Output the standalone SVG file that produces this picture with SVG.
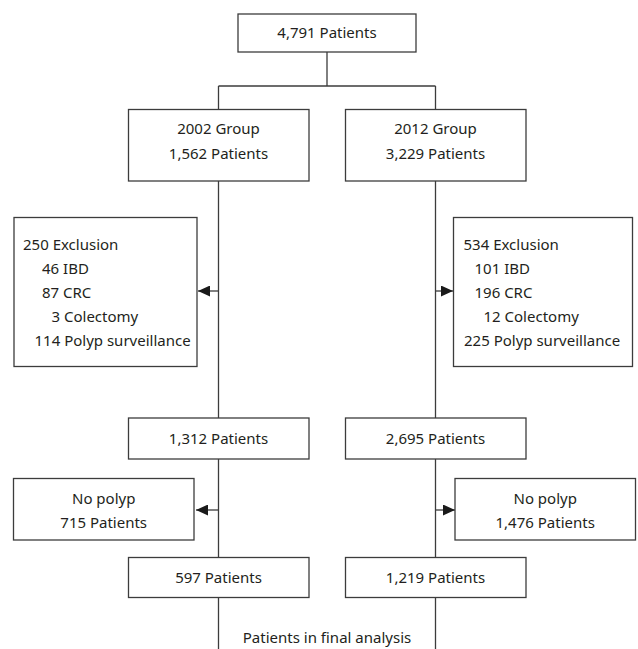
<svg xmlns="http://www.w3.org/2000/svg" width="638" height="649" viewBox="0 0 638 649">
<defs>
<style>
.box{fill:#fff;stroke:#3c3c3c;stroke-width:1.3}
.ln{fill:none;stroke:#3c3c3c;stroke-width:1.3}
.t{font-family:"Noto Sans","Open Sans",sans-serif;font-size:15px;fill:#231f20}
.c{text-anchor:middle}
</style>
<marker id="ah" viewBox="0 0 12 11" refX="12" refY="5.5" markerWidth="12" markerHeight="11" markerUnits="userSpaceOnUse" orient="auto">
<path d="M0,0 L12,5.5 L0,11 Z" fill="#1a1a1a"/>
</marker>
</defs>
<rect width="638" height="649" fill="#fff"/>
<g id="connectors">
<path class="ln" d="M327,52 V86 M218.5,86 H435.5 M218.5,86 V109.5 M435.5,86 V109.5"/>
<path class="ln" d="M218.5,181 V418 M435.5,181 V418"/>
<path class="ln" d="M218.5,459 V557.5 M435.5,459 V557.5"/>
<path class="ln" d="M218.5,597.5 V649 M435.5,597.5 V649"/>
<line class="ln" x1="218.5" y1="291" x2="198" y2="291" marker-end="url(#ah)"/>
<line class="ln" x1="435.5" y1="291" x2="453" y2="291" marker-end="url(#ah)"/>
<line class="ln" x1="218.5" y1="510" x2="196" y2="510" marker-end="url(#ah)"/>
<line class="ln" x1="435.5" y1="510" x2="455" y2="510" marker-end="url(#ah)"/>
</g>
<g id="n-total">
<rect class="box" x="238" y="14" width="178" height="38"/>
<text class="t c" x="327" y="38">4,791 Patients</text>
</g>
<g id="n-2002">
<rect class="box" x="128.5" y="109.5" width="180.5" height="71.5"/>
<text class="t c" x="218.5" y="133.5">2002 Group</text>
<text class="t c" x="218.5" y="159">1,562 Patients</text>
</g>
<g id="n-2012">
<rect class="box" x="345.5" y="109.5" width="180.5" height="71.5"/>
<text class="t c" x="435.5" y="133.5">2012 Group</text>
<text class="t c" x="435.5" y="159">3,229 Patients</text>
</g>
<g id="n-excl-2002">
<rect class="box" x="14" y="217.5" width="183" height="149"/>
<text class="t" x="23" y="249.5">250 Exclusion</text>
<text class="t" x="42" y="273.5">46 IBD</text>
<text class="t" x="42" y="297.5">87 CRC</text>
<text class="t" x="51.5" y="321.5">3 Colectomy</text>
<text class="t" x="34.5" y="345.5">114 Polyp surveillance</text>
</g>
<g id="n-excl-2012">
<rect class="box" x="453.5" y="217.5" width="179" height="149"/>
<text class="t" x="463.5" y="249.5">534 Exclusion</text>
<text class="t" x="474.5" y="273.5">101 IBD</text>
<text class="t" x="474.5" y="297.5">196 CRC</text>
<text class="t" x="483.5" y="321.5">12 Colectomy</text>
<text class="t" x="464" y="345.5">225 Polyp surveillance</text>
</g>
<g id="n-1312">
<rect class="box" x="128.5" y="418" width="180.5" height="41"/>
<text class="t c" x="218.5" y="444">1,312 Patients</text>
</g>
<g id="n-2695">
<rect class="box" x="345.5" y="418" width="180.5" height="41"/>
<text class="t c" x="435.5" y="444">2,695 Patients</text>
</g>
<g id="n-nopolyp-2002">
<rect class="box" x="13.5" y="478.5" width="180.5" height="61.5"/>
<text class="t c" x="103.7" y="504">No polyp</text>
<text class="t c" x="103.7" y="527.5">715 Patients</text>
</g>
<g id="n-nopolyp-2012">
<rect class="box" x="455" y="478.5" width="180.5" height="61.5"/>
<text class="t c" x="545.2" y="504">No polyp</text>
<text class="t c" x="545.2" y="527.5">1,476 Patients</text>
</g>
<g id="n-597">
<rect class="box" x="128.5" y="557.5" width="180.5" height="40"/>
<text class="t c" x="218.5" y="583">597 Patients</text>
</g>
<g id="n-1219">
<rect class="box" x="345.5" y="557.5" width="180.5" height="40"/>
<text class="t c" x="435.5" y="583">1,219 Patients</text>
</g>
<g id="label-final">
<text class="t c" x="327" y="643">Patients in final analysis</text>
</g>
</svg>
